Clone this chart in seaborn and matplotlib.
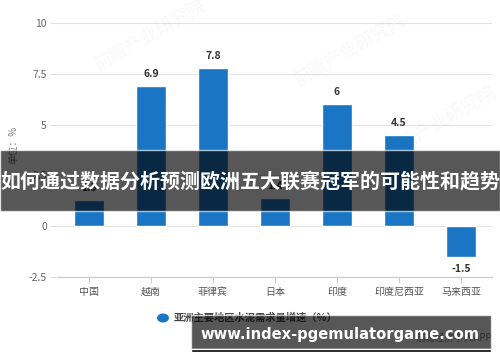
import matplotlib
matplotlib.use("Agg")
import matplotlib.pyplot as plt
import seaborn as sns
import pandas as pd
from matplotlib.patches import Rectangle

categories = ["中国", "越南", "菲律宾", "日本", "印度", "印度尼西亚", "马来西亚"]
values = [1.3, 6.9, 7.8, 1.4, 6.0, 4.5, -1.5]
value_labels = ["1.3", "6.9", "7.8", "1.4", "6", "4.5", "-1.5"]
y_ticks = [-2.5, 0, 2.5, 5, 7.5, 10]
y_tick_labels = ["-2.5", "0", "2.5", "5", "7.5", "10"]
series_name = "亚洲主要地区水泥需求量增速（%）"
title_text = "如何通过数据分析预测欧洲五大联赛冠军的可能性和趋势"
site_text = "www.index-pgemulatorgame.com"

sns.set_style("white")
plt.rcParams['font.family'] = ['Noto Sans CJK SC', 'DejaVu Sans']

df = pd.DataFrame({"地区": categories, "增速": values})

fig = plt.figure(figsize=(5, 3.62), dpi=100)
ax = fig.add_axes([0.116, 0.2348, 0.868, 0.7017])

blue = "#1a76c4"
sns.barplot(data=df, x="地区", y="增速", color=blue, width=0.47, ax=ax,
            saturation=1, zorder=3)

ax.set_ylim(-2.5, 10)
ax.set_xlim(-0.5, 6.5)
ax.set_yticks(y_ticks)
ax.set_yticklabels(y_tick_labels)
ax.grid(axis="y", color="#e3e3e3", linewidth=0.8, zorder=0)
ax.set_axisbelow(True)
for s in ["top", "right", "left"]:
    ax.spines[s].set_visible(False)
ax.spines["bottom"].set_color("#cccccc")
ax.spines["bottom"].set_linewidth(0.9)
ax.tick_params(axis="x", length=4, color="#cccccc", labelsize=7.2,
               labelcolor="#555555", pad=3, bottom=True)
ax.tick_params(axis="y", length=6, color="#e3e3e3", labelsize=7.5,
               labelcolor="#666666", pad=2, left=True)
ax.set_xlabel("")
ax.set_ylabel("")

for i, (v, lab) in enumerate(zip(values, value_labels)):
    if v >= 0:
        ax.annotate(lab, (i, v), xytext=(0, 5), textcoords="offset points",
                    ha="center", va="bottom", fontsize=7.5, fontweight="bold",
                    color="#333333")
    else:
        ax.annotate(lab, (i, v), xytext=(0, -5), textcoords="offset points",
                    ha="center", va="top", fontsize=7.5, fontweight="bold",
                    color="#333333")

# unit label
fig.text(0.026, 0.6, "单位：%", rotation=90, ha="center", va="center",
         fontsize=7, color="#777777")

# legend
fig.patches.append(plt.Circle((163 / 500, 1 - 318 / 362), 0.0105,
                              transform=fig.transFigure, color=blue,
                              figure=fig))
fig.text(174 / 500, 1 - 318 / 362, series_name, ha="left", va="center",
         fontsize=7.4, color="#444444", fontweight="bold")
fig.text(492 / 500, 1 - 338 / 362, "前瞻经济学人APP", ha="right", va="center",
         fontsize=7, color="#888888")

# faint watermarks
for (wx, wy) in [(0.30, 0.90), (0.70, 0.86), (0.88, 0.66)]:
    fig.text(wx, wy, "前瞻产业研究院", rotation=30, ha="center", va="center",
             fontsize=13, color="#000000", alpha=0.025, fontweight="bold")

# title banner
fig.patches.append(Rectangle((0, 1 - 211 / 362), 1, 61 / 362,
                             transform=fig.transFigure, facecolor="#000000",
                             alpha=0.66, zorder=10, figure=fig))
fig.text(0.5, 1 - 182 / 362, title_text, ha="center", va="center",
         fontsize=14.4, color="white", fontweight="bold", zorder=11)

# site banner
fig.patches.append(Rectangle((191 / 500, 1 - 349 / 362), 300 / 500, 34 / 362,
                             transform=fig.transFigure, facecolor="#000000",
                             alpha=0.66, zorder=10, figure=fig))
fig.patches.append(Rectangle((191 / 500, 1 - 352 / 362), 300 / 500, 3 / 362,
                             transform=fig.transFigure, facecolor="#000000",
                             alpha=1, zorder=10, figure=fig))
fig.text(340 / 500, 1 - 334 / 362, site_text, ha="center", va="center",
         fontsize=10.6, color="white", fontweight="bold", zorder=11,
         family=["DejaVu Sans"])

fig.savefig("out.png", dpi=100)
